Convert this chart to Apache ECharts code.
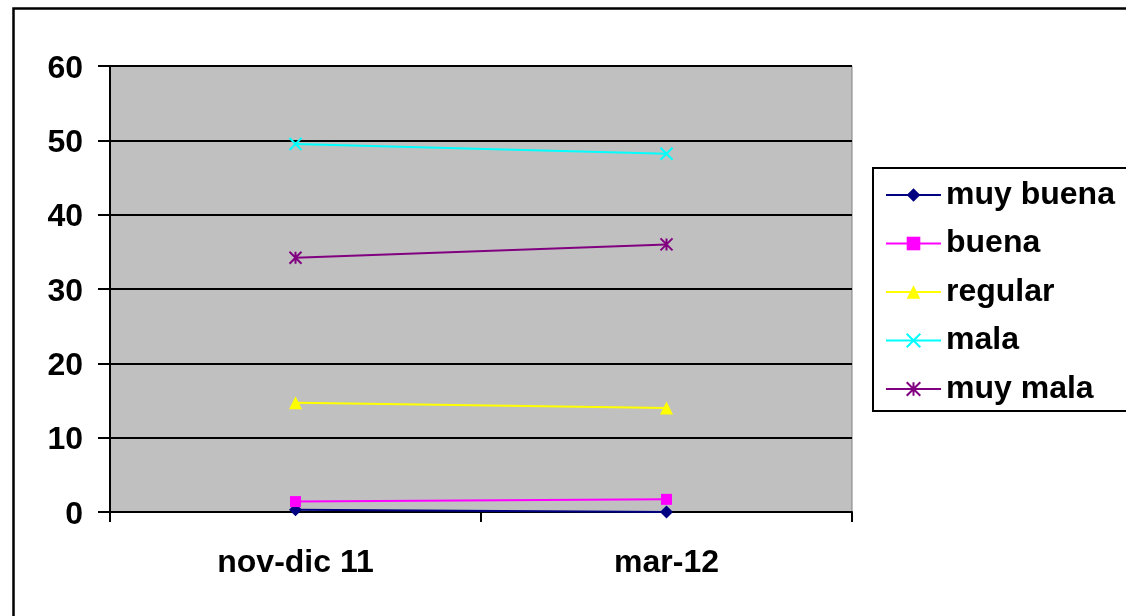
<!DOCTYPE html>
<html>
<head>
<meta charset="utf-8">
<script src="https://cdn.jsdelivr.net/npm/echarts@6/dist/echarts.min.js"></script>
<style>
html,body{margin:0;padding:0;background:#fff;}
#chart{width:1126px;height:616px;}
</style>
</head>
<body>
<div id="chart"></div>
<script>
// Data
const categories = ['nov-dic 11', 'mar-12'];
const seriesNames = ['muy buena', 'buena', 'regular', 'mala', 'muy mala'];
const muyBuena = [0.3, 0.0];
const buena = [1.4, 1.7];
const regular = [14.7, 14.0];
const mala = [49.5, 48.2];
const muyMala = [34.2, 36.0];
const yTicks = { min: 0, max: 60, interval: 10 };

const FONT = '"Liberation Sans", Arial, sans-serif';
const xPath = 'path://M0,0 L10,10 M10,0 L0,10';
const starPath = 'path://M0,0 L10,10 M10,0 L0,10 M5,0 L5,10';

function mk(name, data, color, symbol, size, stroke) {
  return {
    name: name,
    type: 'line',
    data: data,
    symbol: symbol,
    symbolSize: size,
    showAllSymbol: true,
    lineStyle: { color: color, width: 2 },
    itemStyle: { color: color, borderColor: color, borderWidth: stroke },
    emphasis: { disabled: true },
    z: 3
  };
}

const chart = echarts.init(document.getElementById('chart'), null, { renderer: 'canvas' });
chart.setOption({
  animation: false,
  backgroundColor: '#ffffff',
  textStyle: { fontFamily: FONT },
  graphic: [{
    type: 'rect',
    left: 11, top: 6,
    shape: { width: 1130, height: 620 },
    style: { fill: 'none', stroke: '#000', lineWidth: 2.5 },
    z: 0, silent: true
  }],
  grid: {
    left: 110, top: 66, width: 742, height: 446,
    show: true, backgroundColor: '#C0C0C0', borderColor: '#808080', borderWidth: 1,
    containLabel: false
  },
  legend: {
    orient: 'vertical',
    left: 873, top: 168,
    padding: [11, 14, 6, 12],
    itemWidth: 55, itemHeight: 17, itemGap: 16.5,
    backgroundColor: '#fff',
    borderColor: '#000', borderWidth: 2,
    textStyle: { fontFamily: FONT, fontWeight: 'bold', fontSize: 32, color: '#000', lineHeight: 30 },
    data: seriesNames,
    selectedMode: false
  },
  xAxis: {
    type: 'category',
    data: categories,
    boundaryGap: true,
    axisLine: { lineStyle: { color: '#000', width: 2 } },
    axisTick: { show: true, length: 10, lineStyle: { color: '#000', width: 2 } },
    axisLabel: { fontFamily: FONT, fontWeight: 'bold', fontSize: 32, color: '#000', margin: 35 },
    splitLine: { show: false }
  },
  yAxis: {
    type: 'value',
    min: yTicks.min, max: yTicks.max, interval: yTicks.interval,
    axisLine: { show: true, lineStyle: { color: '#000', width: 2 } },
    axisTick: { show: true, length: 12, lineStyle: { color: '#000', width: 2 } },
    axisLabel: {
      fontFamily: FONT, fontWeight: 'bold', fontSize: 32, color: '#000', margin: 27,
      formatter: '{v|{value}}',
      rich: { v: { fontFamily: FONT, fontWeight: 'bold', fontSize: 32, color: '#000', padding: [6, 0, 0, 0] } }
    },
    splitLine: { show: true, lineStyle: { color: '#000', width: 2 } }
  },
  series: [
    mk(seriesNames[0], muyBuena, '#000080', 'diamond', 13, 0),
    mk(seriesNames[1], buena, '#FF00FF', 'rect', 11, 0),
    mk(seriesNames[2], regular, '#FFFF00', 'triangle', 13, 0),
    mk(seriesNames[3], mala, '#00FFFF', xPath, 12, 2),
    mk(seriesNames[4], muyMala, '#800080', starPath, 12, 2)
  ]
});
</script>
</body>
</html>
